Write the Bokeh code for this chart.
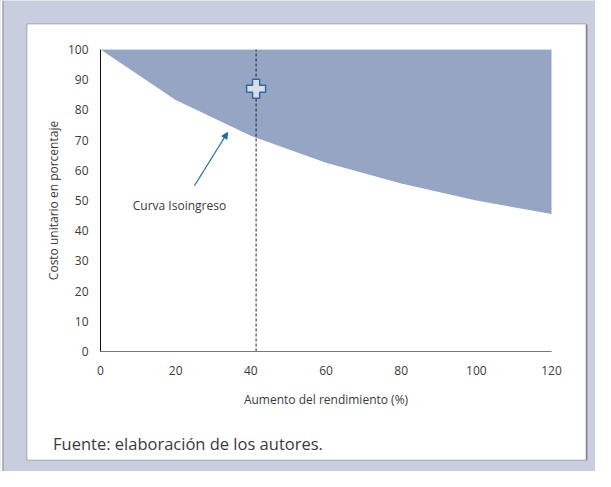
from bokeh.plotting import figure
from bokeh.models import (Label, Arrow, NormalHead, FixedTicker, BoxAnnotation,
                          Range1d, ColumnDataSource)
from bokeh.embed import file_html
from bokeh.resources import INLINE

# ---- data ----
rendimiento = [0, 20, 40, 60, 80, 100, 120]          # aumento del rendimiento (%)
costo = [100, 83.3, 71.4, 62.5, 55.6, 50.0, 45.5]    # costo unitario (%) - curva isoingreso
techo = [100, 100, 100, 100, 100, 100, 100]
corte_x = [41.4]
corte_y0 = [0]
corte_y1 = [100]
punto_x = [41.4]
punto_y = [87]
x_ticks = [0, 20, 40, 60, 80, 100, 120]
y_ticks = [0, 10, 20, 30, 40, 50, 60, 70, 80, 90, 100]
anot_texto = "Curva Isoingreso"
anot_x = [21.0]
anot_y = [48.2]
flecha_desde = (25.0, 54.9)
flecha_hasta = (33.8, 72.5)

FONT = "Open Sans"
LAVENDER = "#C8CDE0"
TXT = "#3a3a3a"

# canvas size and where the data area (0..120 x 0..100) sits on it, in pixels
W, H = 595, 471
PX0, PX1 = 100, 551      # x = 0 and x = 120
PY0, PY1 = 351, 49       # y = 0 and y = 100
KX = (PX1 - PX0) / 120.0
KY = (PY0 - PY1) / 100.0

def dx(px):
    return (px - PX0) / KX
def dy(py):
    return (PY0 - py) / KY

p = figure(width=W, height=H, output_backend="svg", toolbar_location=None,
           x_range=Range1d(dx(0), dx(W)), y_range=Range1d(dy(H), dy(0)),
           min_border=0)
p.min_border_left = p.min_border_right = p.min_border_top = p.min_border_bottom = 0
p.border_fill_color = LAVENDER
p.background_fill_color = LAVENDER
p.outline_line_color = None
p.xgrid.visible = False
p.ygrid.visible = False
p.title.visible = False

def box(x0, y0, x1, y1, fill, line=None):
    p.add_layout(BoxAnnotation(left=dx(x0), right=dx(x1), top=dy(y0), bottom=dy(y1),
                               fill_color=fill, fill_alpha=1.0, line_color=line,
                               line_width=1, level="image"))

# page decorations: white strip at left, gray rule, white panel with border
box(0, 0, 2, H, "white")
box(2, 0, 3, H, "#8a8a8a")
box(585, 24, 587, 460, "#8f8f8f")
box(26.5, 23.5, 585.5, 459.5, "white", "#333333")

src = ColumnDataSource(dict(x=rendimiento, y1=costo, y2=techo))
p.varea(x="x", y1="y1", y2="y2", source=src, fill_color="#97A5C4")
p.line(rendimiento, techo, line_color="#d9dce4", line_width=1)

p.segment(x0=corte_x, y0=corte_y0, x1=corte_x, y1=corte_y1,
          line_color="#222222", line_width=1, line_dash="3 2")

p.scatter(punto_x, punto_y, marker="plus", size=19, fill_color="#D8DDE7",
          line_color="#2A6AA3", line_width=1.5)

p.add_layout(Arrow(end=NormalHead(size=6, fill_color="#1F6AA5", line_color="#1F6AA5"),
                   x_start=flecha_desde[0], y_start=flecha_desde[1],
                   x_end=flecha_hasta[0], y_end=flecha_hasta[1],
                   line_color="#1F6AA5", line_width=1.2))

p.add_layout(Label(x=anot_x[0], y=anot_y[0], text=anot_texto, text_font=FONT,
                   text_font_size="12px", text_color=TXT,
                   text_align="center", text_baseline="middle"))

p.add_layout(Label(x=dx(52.5), y=dy(443), text="Fuente: elaboración de los autores.",
                   text_font=FONT, text_font_size="16.5px", text_color=TXT,
                   text_align="left", text_baseline="middle"))

# axes, fixed at the data origin
p.xaxis.fixed_location = 0
p.yaxis.fixed_location = 0
p.xaxis.bounds = (0, 120)
p.yaxis.bounds = (0, 100)
p.xaxis.ticker = FixedTicker(ticks=x_ticks)
p.yaxis.ticker = FixedTicker(ticks=y_ticks)
for ax in (p.xaxis, p.yaxis):
    ax.major_tick_line_color = None
    ax.minor_tick_line_color = None
    ax.major_label_text_font = FONT
    ax.major_label_text_font_size = "12px"
    ax.major_label_text_color = TXT
    ax.axis_label_text_font = FONT
    ax.axis_label_text_font_size = "12px"
    ax.axis_label_text_font_style = "normal"
    ax.axis_label_text_color = TXT
p.xaxis.axis_line_color = "#777777"
p.yaxis.axis_line_color = "#111111"
p.xaxis.axis_label = "Aumento del rendimiento (%)"
p.yaxis.axis_label = "Costo unitario en porcentaje"
p.xaxis.major_label_standoff = 8
p.yaxis.major_label_standoff = 6
p.xaxis.axis_label_standoff = 13
p.yaxis.axis_label_standoff = 3

open("out.html", "w").write(file_html(p, INLINE))
